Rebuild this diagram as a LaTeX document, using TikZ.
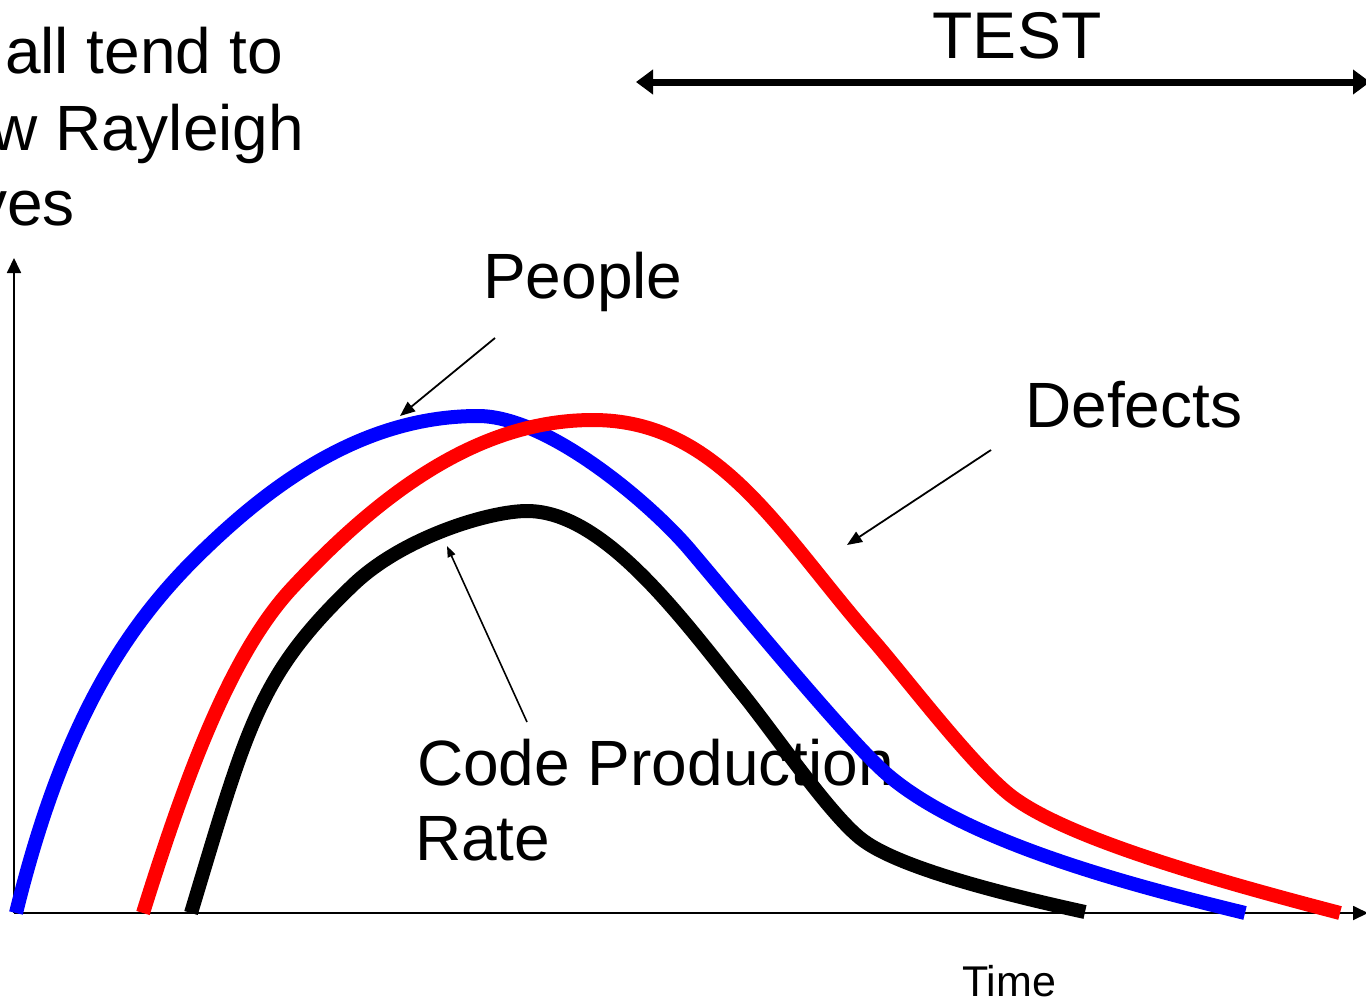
\documentclass[tikz,border=0pt]{standalone}
\usepackage{fontspec}
\setmainfont{Liberation Sans}
\usetikzlibrary{arrows.meta}
\begin{document}
\begin{tikzpicture}[x=1pt,y=-1pt,
  curve/.style={line width=14pt, line cap=butt, line join=round},
  axis/.style={line width=1.8pt, -{Triangle[length=15pt,width=14pt]}},
  pointer/.style={line width=1.8pt, -{Triangle[length=15pt,width=12pt]}},
  smallpointer/.style={line width=1.6pt, -{Triangle[length=11pt,width=8pt]}},
  span/.style={line width=7pt, {Triangle[length=17pt,width=24pt]}-{Triangle[length=17pt,width=24pt]}},
  lbl/.style={inner sep=0pt, anchor=base west, font=\fontsize{64}{76}\selectfont},
]
\useasboundingbox (0,0) rectangle (1366,1001);
\clip (0,0) rectangle (1366,1001);

% heading lines, running off the left edge
\node[lbl] (head1) at (5,73)   {all tend to};
\node[lbl] (head2) at (-9,150) {w Rayleigh};
\node[lbl] (head3) at (-25,225) {ves};

% test phase span
\node[inner sep=0pt, anchor=base, font=\fontsize{66}{76}\selectfont] (test) at (1017,58) {TEST};
\coordinate (spanL) at (636,82);
\coordinate (spanR) at (1370,82);
\draw[span] (spanL) -- (spanR);

% axes
\coordinate (origin) at (14,913);
\coordinate (ytop) at (14,258);
\coordinate (xend) at (1368,913);
\draw[axis] (origin) -- (ytop);
\draw[axis] (origin) -- (xend);

% curve labels
\node[lbl] (people) at (483,298) {People};
\node[lbl] (defects) at (1025,427) {Defects};
\node[lbl] (code1) at (417,785) {Code Production};
\node[lbl] (code2) at (415,860) {Rate};
\node[inner sep=0pt, anchor=base west, font=\fontsize{43}{50}\selectfont] (time) at (962,996) {Time};

% pointers from labels to curves
\coordinate (pplA) at (495,338);  \coordinate (pplB) at (400,416);
\coordinate (defA) at (991,450);  \coordinate (defB) at (847,545);
\coordinate (codA) at (527,722);  \coordinate (codB) at (447,546);
\draw[pointer] (pplA) -- (pplB);
\draw[pointer] (defA) -- (defB);
\draw[smallpointer] (codA) -- (codB);

% people
\draw[curve, blue] (16,913)
  .. controls (64,718) and (128,622) .. (207,547)
  .. controls (281,476) and (370,416) .. (478,416)
  .. controls (548,416) and (651,504) .. (690,550)
  .. controls (729,596) and (836,726) .. (879,767)
  .. controls (958,843) and (1148,889) .. (1245,913);

% defects
\draw[curve, red] (143,913)
  .. controls (185,779) and (230,654) .. (293,587)
  .. controls (391,482) and (487,420) .. (593,420)
  .. controls (720,420) and (780,534) .. (873,640)
  .. controls (906,678) and (971,764) .. (1010,795)
  .. controls (1065,838) and (1214,880) .. (1340,913);

% code production rate
\draw[curve, black] (191,913)
  .. controls (248,724) and (259,675) .. (353,585)
  .. controls (403,537) and (490,511) .. (527,511)
  .. controls (605,511) and (683,620) .. (745,697)
  .. controls (776,736) and (829,813) .. (860,838)
  .. controls (899,870) and (1026,899) .. (1085,912);
\end{tikzpicture}
\end{document}
